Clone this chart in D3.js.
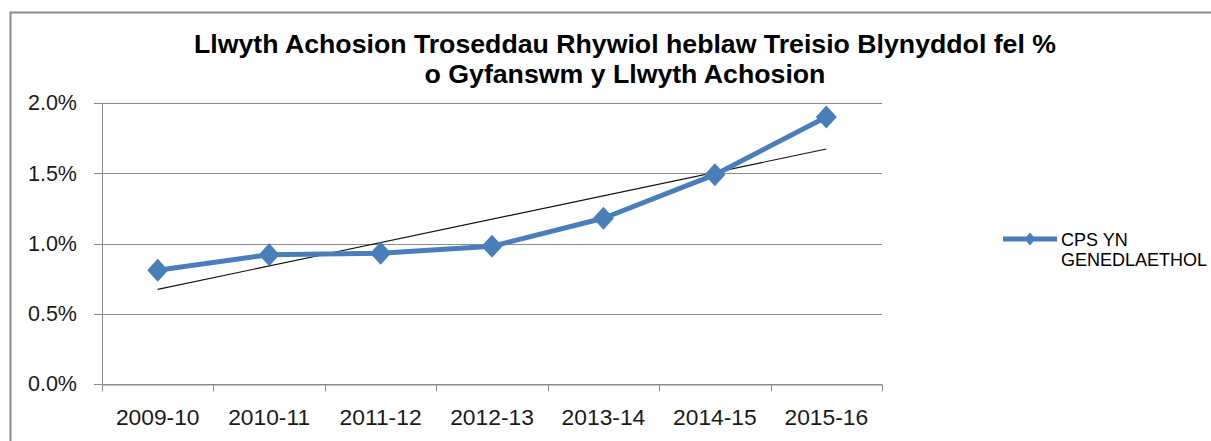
<!DOCTYPE html>
<html>
<head>
<meta charset="utf-8">
<script src="https://cdn.jsdelivr.net/npm/d3@7"></script>
<style>
  html, body { margin: 0; padding: 0; background: #fff; }
  svg { display: block; }
</style>
</head>
<body>
<svg id="chart" width="1211" height="441"></svg>
<script>
const categories = ["2009-10", "2010-11", "2011-12", "2012-13", "2013-14", "2014-15", "2015-16"];
const seriesName = "CPS YN GENEDLAETHOL";
const values = [0.0081, 0.0092, 0.0093, 0.0098, 0.0118, 0.0149, 0.0190];
const yTicks = [0, 0.005, 0.01, 0.015, 0.02];
const titleLines = ["Llwyth Achosion Troseddau Rhywiol heblaw Treisio Blynyddol fel %", "o Gyfanswm y Llwyth Achosion"];
const legendLines = ["CPS YN", "GENEDLAETHOL"];

const svg = d3.select("#chart");
const m = { left: 102, right: 882, top: 103, bottom: 384 };

// outer frame
svg.append("rect")
  .attr("x", 10.5).attr("y", 12.5)
  .attr("width", 1220).attr("height", 450)
  .attr("fill", "#fff").attr("stroke", "#898989").attr("stroke-width", 2);

const x = d3.scaleBand().domain(categories).range([m.left, m.right]);
const y = d3.scaleLinear().domain([0, 0.02]).range([m.bottom, m.top]);

const gridColor = "#8c8c8c";
const font = "'Liberation Sans', Arial, sans-serif";

// gridlines
svg.append("g")
  .selectAll("line").data(yTicks).join("line")
  .attr("x1", m.left - 8).attr("x2", m.right)
  .attr("y1", d => Math.round(y(d)) + 0.5).attr("y2", d => Math.round(y(d)) + 0.5)
  .attr("stroke", gridColor).attr("stroke-width", 1);

// y axis line
svg.append("line")
  .attr("x1", m.left + 0.5).attr("x2", m.left + 0.5)
  .attr("y1", m.top).attr("y2", m.bottom)
  .attr("stroke", gridColor);

// y axis labels
const yAxis = d3.axisLeft(y).tickValues(yTicks).tickFormat(d3.format(".1%")).tickSize(0).tickPadding(0);
const gy = svg.append("g").attr("transform", `translate(${m.left - 25},0)`).call(yAxis);
gy.select(".domain").remove();
gy.selectAll("text")
  .attr("font-family", font)
  .attr("font-size", 21.5).attr("fill", "#1a1a1a");

// x axis
const xAxis = d3.axisBottom(x).tickSize(0).tickPadding(0);
const gx = svg.append("g").attr("transform", `translate(0,${Math.round(m.bottom) + 0.5})`).call(xAxis);
gx.select(".domain").attr("stroke", gridColor);
gx.selectAll("text")
  .attr("dy", 0).attr("y", 40)
  .attr("font-family", font)
  .attr("font-size", 22.8).attr("fill", "#1a1a1a");
const bounds = categories.map(c => x(c)).concat([x(categories[categories.length - 1]) + x.bandwidth()]);
gx.append("g").selectAll("line").data(bounds).join("line")
  .attr("x1", d => Math.round(d) + 0.5).attr("x2", d => Math.round(d) + 0.5)
  .attr("y1", 0).attr("y2", 7)
  .attr("stroke", gridColor);

const cx = c => x(c) + x.bandwidth() / 2;

// trendline (linear regression of the series)
const n = values.length;
const xs = d3.range(1, n + 1);
const mx = d3.mean(xs), my = d3.mean(values);
const slope = d3.sum(xs, (xi, i) => (xi - mx) * (values[i] - my)) / d3.sum(xs, xi => (xi - mx) ** 2);
const intercept = my - slope * mx;
svg.append("line")
  .attr("x1", cx(categories[0])).attr("y1", y(intercept + slope * 1))
  .attr("x2", cx(categories[n - 1])).attr("y2", y(intercept + slope * n))
  .attr("stroke", "#111").attr("stroke-width", 1.1);

// series line
const blue = "#4a7ebb";
const line = d3.line().x((d, i) => cx(categories[i])).y(d => y(d));
svg.append("path").datum(values)
  .attr("d", line).attr("fill", "none")
  .attr("stroke", blue).attr("stroke-width", 5).attr("stroke-linejoin", "round");

// markers
const diamond = (rx, ry) => `M0,${-ry}L${rx},0L0,${ry}L${-rx},0Z`;
svg.append("g").selectAll("path").data(values).join("path")
  .attr("transform", (d, i) => `translate(${cx(categories[i])},${y(d)})`)
  .attr("d", diamond(10.5, 11.5))
  .attr("fill", blue);

// title
const title = svg.append("text")
  .attr("text-anchor", "middle")
  .attr("font-family", font)
  .attr("font-weight", "bold").attr("font-size", 26.7).attr("fill", "#000");
titleLines.forEach((t, i) => {
  title.append("tspan").attr("x", 625).attr("y", 53 + i * 30).text(t);
});

// legend
const lg = svg.append("g");
lg.append("line").attr("x1", 1003).attr("x2", 1057).attr("y1", 239).attr("y2", 239)
  .attr("stroke", blue).attr("stroke-width", 5);
lg.append("path").attr("transform", "translate(1030,239)").attr("d", diamond(5.5, 6.5)).attr("fill", blue);
const lt = lg.append("text")
  .attr("font-family", font)
  .attr("font-size", 18).attr("fill", "#000");
legendLines.forEach((t, i) => {
  lt.append("tspan").attr("x", 1061).attr("y", 246 + i * 20).text(t);
});
</script>
</body>
</html>
